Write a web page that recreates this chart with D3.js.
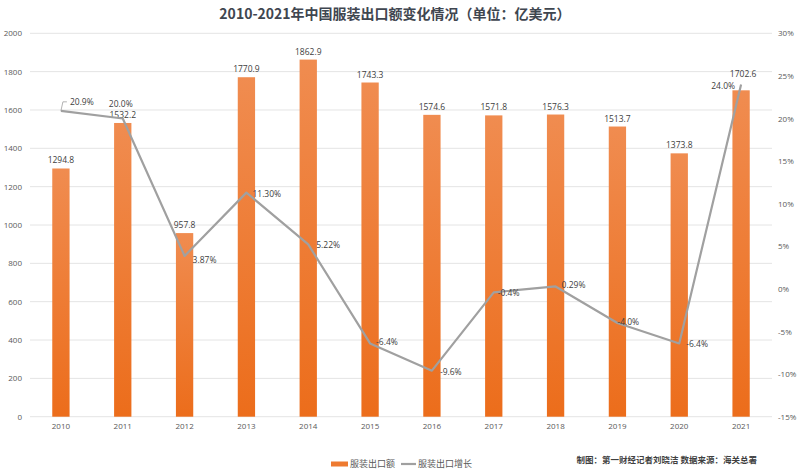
<!DOCTYPE html>
<html><head><meta charset="utf-8">
<script src="https://cdn.jsdelivr.net/npm/d3@7/dist/d3.min.js"></script>
<style>
body{margin:0;background:#fff;}
svg{display:block;font-family:"Noto Sans CJK SC","Noto Sans",sans-serif;}
</style></head>
<body><svg id="c" width="800" height="469"></svg>
<script>
const years = ["2010","2011","2012","2013","2014","2015","2016","2017","2018","2019","2020","2021"];
const exportValues = [1294.8,1532.2,957.8,1770.9,1862.9,1743.3,1574.6,1571.8,1576.3,1513.7,1373.8,1702.6];
const growthValues = [20.9,20.0,3.87,11.30,5.22,-6.4,-9.6,-0.4,0.29,-4.0,-6.4,24.0];
const growthLabels = ["20.9%","20.0%","3.87%","11.30%","5.22%","-6.4%","-9.6%","-0.4%","0.29%","-4.0%","-6.4%","24.0%"];
const leftTicks = [0,200,400,600,800,1000,1200,1400,1600,1800,2000];
const rightTicks = [-15,-10,-5,0,5,10,15,20,25,30];
const titleText = "2010-2021年中国服装出口额变化情况（单位：亿美元）";
const seriesNames = ["服装出口额","服装出口增长"];
const creditText = "制图：第一财经记者刘晓洁 数据来源：海关总署";

const svg = d3.select("#c");
const M = {l:30, r:772, t:33.3, b:416.7};

const x = d3.scaleBand().domain(years).range([M.l, M.r]).paddingInner(0.72).paddingOuter(0.36);
const yL = d3.scaleLinear().domain([0,2000]).range([M.b, M.t]);
const yR = d3.scaleLinear().domain([-15,30]).range([M.b, M.t]);

const defs = svg.append("defs");
const g = defs.append("linearGradient").attr("id","barG").attr("x1",0).attr("y1",0).attr("x2",0).attr("y2",1);
g.append("stop").attr("offset","0%").attr("stop-color","#F08C50");
g.append("stop").attr("offset","100%").attr("stop-color","#EC6D1B");

// title
svg.append("text").attr("x",395).attr("y",19).attr("text-anchor","middle")
  .attr("font-size",14).attr("font-weight","bold").attr("fill","#3F4650").text(titleText);

// gridlines
svg.append("g").selectAll("line").data(leftTicks).join("line")
  .attr("x1",M.l).attr("x2",M.r).attr("y1",d=>yL(d)).attr("y2",d=>yL(d))
  .attr("stroke","#E4E4E4").attr("stroke-width",1);

// left axis
const ax = d3.axisLeft(yL).tickValues(leftTicks).tickSize(0).tickPadding(8).tickFormat(d=>String(d));
const gl = svg.append("g").attr("transform",`translate(${M.l},0)`).call(ax);
gl.select(".domain").remove();
gl.selectAll("text").attr("font-size",8).attr("fill","#595959").attr("font-family","'Open Sans',sans-serif");

const ar = d3.axisRight(yR).tickValues(rightTicks).tickSize(0).tickPadding(6).tickFormat(d=>d+"%");
const gr = svg.append("g").attr("transform",`translate(${M.r},0)`).call(ar);
gr.select(".domain").remove();
gr.selectAll("text").attr("font-size",8).attr("fill","#595959").attr("font-family","'Open Sans',sans-serif");

const abx = d3.axisBottom(x).tickSize(0).tickPadding(7);
const gb = svg.append("g").attr("transform",`translate(0,${M.b})`).call(abx);
gb.select(".domain").remove();
gb.selectAll("text").attr("font-size",8).attr("fill","#595959").attr("font-family","'Open Sans',sans-serif");

// bars
svg.append("g").selectAll("rect").data(years).join("rect")
  .attr("x",d=>x(d)).attr("width",x.bandwidth())
  .attr("y",(d,i)=>yL(exportValues[i])).attr("height",(d,i)=>yL(0)-yL(exportValues[i]))
  .attr("fill","url(#barG)");

// bar labels
svg.append("g").selectAll("text").data(years).join("text")
  .attr("x",d=>x(d)+x.bandwidth()/2+(d==="2021"?2:0))
  .attr("y",(d,i)=>yL(exportValues[i])-5-(d==="2021"?8:0))
  .attr("text-anchor","middle").attr("font-size",8.5).attr("fill","#404040")
  .attr("font-family","'Open Sans',sans-serif")
  .text((d,i)=>exportValues[i].toFixed(1));

// line
const cx = d=>x(d)+x.bandwidth()/2;
const line = d3.line().x((d,i)=>cx(years[i])).y(d=>yR(d));
svg.append("path").datum(growthValues).attr("d",line)
  .attr("fill","none").attr("stroke","#A0A0A0").attr("stroke-width",2.2).attr("stroke-linejoin","round");

// leader for 2010
const p0x = cx(years[0]), p0y = yR(growthValues[0]);
svg.append("path").attr("d",`M${p0x},${p0y} L${p0x+2},${p0y-9} L${p0x+6},${p0y-9}`)
  .attr("fill","none").attr("stroke","#A0A0A0").attr("stroke-width",0.8);

// line labels: offsets relative to the point
const lblOff = [[9,-9,"start"],[-2,-14,"middle"],[8,4,"start"],[6,1,"start"],[8,1,"start"],[6,-1,"start"],[8,1,"start"],[4,1,"start"],[6,-1,"start"],[0,-1,"start"],[7,1,"start"],[-6,2,"end"]];
svg.append("g").selectAll("text").data(growthLabels).join("text")
  .attr("x",(d,i)=>cx(years[i])+lblOff[i][0])
  .attr("y",(d,i)=>yR(growthValues[i])+lblOff[i][1])
  .attr("dy","0.35em").attr("text-anchor",(d,i)=>lblOff[i][2])
  .attr("font-size",8.5).attr("fill","#404040").attr("font-family","'Open Sans',sans-serif")
  .text(d=>d);

// legend
const lg = svg.append("g");
lg.append("rect").attr("x",331).attr("y",461.5).attr("width",17).attr("height",5).attr("fill","#EE7A30");
lg.append("text").attr("x",350).attr("y",464).attr("dy","0.35em").attr("font-size",9).attr("fill","#595959").text(seriesNames[0]);
lg.append("line").attr("x1",401).attr("x2",416).attr("y1",464).attr("y2",464).attr("stroke","#A0A0A0").attr("stroke-width",2.2);
lg.append("text").attr("x",418).attr("y",464).attr("dy","0.35em").attr("font-size",9).attr("fill","#595959").text(seriesNames[1]);

// credit
svg.append("text").attr("x",757).attr("y",460).attr("dy","0.35em").attr("text-anchor","end")
  .attr("font-size",8.5).attr("font-weight","bold").attr("fill","#404040").text(creditText);
</script></body></html>
